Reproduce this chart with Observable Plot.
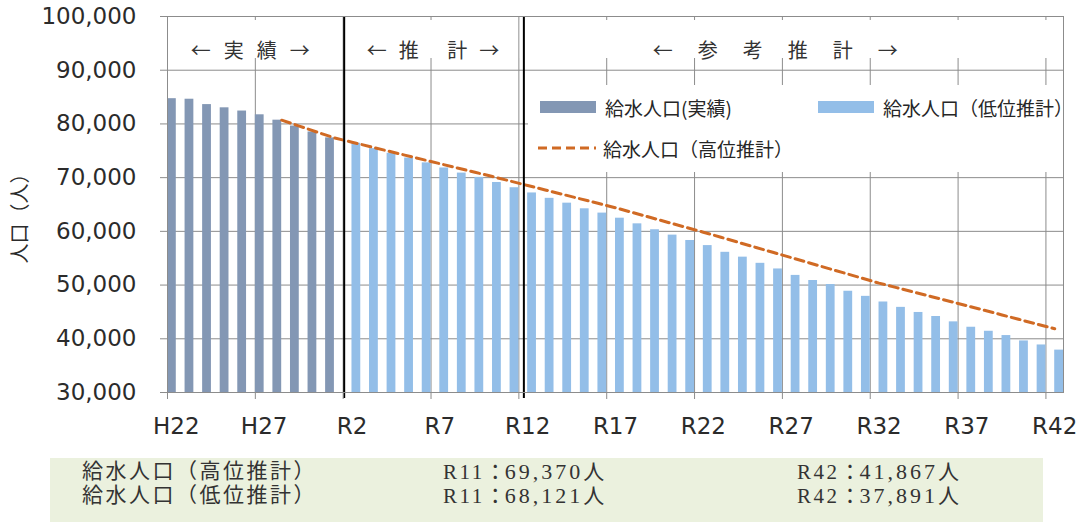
<!DOCTYPE html>
<html>
<head>
<meta charset="utf-8">
<script src="https://cdn.jsdelivr.net/npm/d3@7"></script>
<script src="https://cdn.jsdelivr.net/npm/@observablehq/plot@0.6"></script>
<style>
  body { margin: 0; background: #fff; overflow: hidden; }
  #wrap { position: relative; width: 1080px; height: 522px; font-family: "Noto Sans CJK JP", sans-serif; }
  #legend { position: absolute; left: 528px; top: 85px; width: 535px; height: 87px; background: #fff; font-size: 19px; color: #262626; }
  #legend .item { position: absolute; display: flex; align-items: center; height: 24px; white-space: nowrap; }
  #legend .sw { display: inline-block; margin-right: 7px; }
  #table { position: absolute; left: 50px; top: 458px; width: 993px; height: 70px; background: #EBF1DE;
           font-family: "Liberation Serif", "Noto Sans CJK JP", serif; font-size: 21px; letter-spacing: 2.5px; color: #333; }
  #table .cell { position: absolute; white-space: nowrap; line-height: 1; }
  #table .colon { letter-spacing: -3px; margin-right: 2px; }
  #table .num { display: inline-block; font-size: 22px; letter-spacing: 3px; }
</style>
</head>
<body>
<div id="wrap">
  <div id="chart"></div>
  <div id="legend"></div>
  <div id="table"></div>
</div>
<script>
// Fiscal years on the category axis (Heisei 22 … Reiwa 42)
const years = [
  "H22","H23","H24","H25","H26","H27","H28","H29","H30",
  "R1","R2","R3","R4","R5","R6","R7","R8","R9","R10",
  "R11","R12","R13","R14","R15","R16","R17","R18","R19","R20",
  "R21","R22","R23","R24","R25","R26","R27","R28","R29","R30",
  "R31","R32","R33","R34","R35","R36","R37","R38","R39","R40",
  "R41","R42"
];
const tickLabels = ["H22","H27","R2","R7","R12","R17","R22","R27","R32","R37","R42"];
const yTicks = [30000, 40000, 50000, 60000, 70000, 80000, 90000, 100000];

// Served population, actual (H22–R1)
const actual = [84700, 84600, 83600, 83000, 82400, 81700, 80700, 79600, 78500, 77400];

// Served population, low projection (R2–R42)
const lowProjection = [
  76400, 75400, 74550, 73650, 72750, 71800, 70850, 70050, 69100, 68121,
  67150, 66150, 65250, 64200, 63400, 62450, 61400, 60300, 59300, 58300,
  57350, 56100, 55200, 54050, 53000, 51800, 50850, 50100, 48850, 47900,
  46850, 45850, 44900, 44150, 43150, 42150, 41400, 40600, 39600, 38850,
  37891
];

// Served population, high projection (H28–R42)
const highStartYear = "H28";
const highProjection = [
  80700, 79600, 78500, 77400, 76600, 75800, 75000, 74200, 73400, 72600,
  71800, 71000, 70200, 69370, 68540, 67710, 66880, 66050, 65220, 64390,
  63480, 62570, 61660, 60750, 59840, 58900, 57950, 57000, 56060, 55110,
  54160, 53210, 52260, 51310, 50360, 49520, 48680, 47840, 47000, 46160,
  45300, 44440, 43580, 42720, 41867
];

const seriesNames = ["給水人口(実績)", "給水人口（低位推計）", "給水人口（高位推計）"];
const phaseNames = ["←実績→", "←推 計→", "←参考推計→"];
const phaseStarts = ["H22", "R2", "R12"];
const tableYears = ["R11", "R42"];
const yTitle = "人口（人）";

// ---- derived tables ----
const actualRows = actual.map((value, k) => ({i: k, value}));
const lowRows = lowProjection.map((value, k) => ({i: k + actual.length, value}));
const highStart = years.indexOf(highStartYear);
const highRows = highProjection.map((value, k) => ({i: k + highStart, value}));
const phases = phaseNames.map((name, k) => ({
  name,
  start: years.indexOf(phaseStarts[k]),
  end: k + 1 < phaseStarts.length ? years.indexOf(phaseStarts[k + 1]) : years.length
}));
const boundaryTicks = tickLabels.map(l => years.indexOf(l));
const labelTicks = tickLabels.map(l => years.indexOf(l) + 0.5);

const darkColor = "#8397B4";
const lightColor = "#93BEE8";
const orange = "#D06A24";
const gridColor = "#8c8c8c";
const textColor = "#2b2b2b";
const fmt = d3.format(",");

const chart = Plot.plot({
  width: 1080,
  height: 450,
  marginTop: 16,
  marginBottom: 58,
  marginLeft: 167,
  marginRight: 17,
  x: {type: "linear", domain: [0, years.length]},
  y: {domain: d3.extent(yTicks)},
  style: {fontFamily: "'DejaVu Sans', 'Noto Sans CJK JP', sans-serif", fontSize: "23px", background: "#fff", color: textColor},
  marks: [
    Plot.ruleY(yTicks.slice(1, -1), {stroke: gridColor}),
    Plot.ruleX(boundaryTicks, {stroke: gridColor}),
    // white band behind the phase captions
    Plot.rect(phases, {x1: "start", x2: "end", fill: "white", insetTop: 4, insetBottom: 334, insetLeft: 1.5, insetRight: 1.5}),
    Plot.rectY(actualRows, {x1: d => d.i, x2: d => d.i + 0.5, y: "value", fill: darkColor, clip: true}),
    Plot.rectY(lowRows, {x1: d => d.i + 0.5, x2: d => d.i + 1, y: "value", fill: lightColor, clip: true}),
    Plot.line(highRows, {x: d => d.i + 0.5, y: "value", stroke: orange, strokeWidth: 3, strokeDasharray: "9,5"}),
    // phase dividers
    Plot.ruleX([phases[1].start], {stroke: "#000", strokeWidth: 2, dx: 1, insetBottom: -6}),
    Plot.ruleX([phases[2].start], {stroke: "#000", strokeWidth: 2, dx: 5, insetBottom: -6}),
    Plot.frame({stroke: gridColor}),
    Plot.axisY(yTicks, {tickSize: 7, tickPadding: 24, tickFormat: fmt, fontSize: 23, stroke: gridColor, fill: textColor, label: null}),
    Plot.axisX(boundaryTicks, {tickSize: 7, tickFormat: () => "", stroke: gridColor, label: null}),
    Plot.axisX(labelTicks, {tickSize: 0, tickPadding: 25, tickFormat: d => years[Math.floor(d)], fontSize: 23, fill: textColor, label: null}),
    Plot.text(phases, {x: d => (d.start + d.end) / 2, text: "name", frameAnchor: "top", dy: 27, fontSize: 20,
      fontFamily: "'Noto Sans CJK JP', sans-serif", fill: "#333"}),
    Plot.text([yTitle], {text: d => d, frameAnchor: "left", textAnchor: "middle", rotate: -90, dx: -147, dy: 9, fontSize: 20,
      fontFamily: "'Noto Sans CJK JP', sans-serif", fill: textColor})
  ]
});

// spread the phase captions
const phaseSpacing = [13, 12, 25];
const phaseShift = [-5, 2, -16];
d3.select(chart).selectAll("text")
  .filter(function() { return phaseNames.includes(this.textContent); })
  .each(function() {
    const k = phaseNames.indexOf(this.textContent);
    d3.select(this).attr("letter-spacing", phaseSpacing[k]).attr("dx", phaseShift[k] + phaseSpacing[k] / 2);
  });
document.getElementById("chart").appendChild(chart);

// legend
const legend = d3.select("#legend");
const legendItems = [
  {name: seriesNames[0], left: 12, top: 10, kind: "bar", color: darkColor},
  {name: seriesNames[1], left: 290, top: 10, kind: "bar", color: lightColor},
  {name: seriesNames[2], left: 10, top: 51, kind: "line", color: orange}
];
legendItems.forEach(it => {
  const item = legend.append("div").attr("class", "item").style("left", it.left + "px").style("top", it.top + "px");
  const sw = item.append("svg").attr("class", "sw").attr("width", 58).attr("height", 12);
  if (it.kind === "bar") sw.append("rect").attr("width", 56).attr("height", 12).attr("fill", it.color);
  else sw.append("line").attr("x1", 0).attr("x2", 58).attr("y1", 6).attr("y2", 6)
         .attr("stroke", it.color).attr("stroke-width", 3).attr("stroke-dasharray", "9,5");
  item.append("span").text(it.name);
});

// summary box
const lookup = rows => new Map(rows.map(d => [years[d.i], d.value]));
const summary = [
  {name: seriesNames[2], values: lookup(highRows)},
  {name: seriesNames[1], values: lookup(lowRows)}
];
const table = d3.select("#table");
const colLeft = [32, 393, 747];
summary.forEach((row, r) => {
  const top = 3 + r * 23.5;
  table.append("div").attr("class", "cell").style("left", colLeft[0] + "px").style("top", top + "px").text(row.name);
  tableYears.forEach((y, c) => {
    const cell = table.append("div").attr("class", "cell").style("left", colLeft[c + 1] + "px").style("top", top + "px");
    cell.append("span").text(y);
    cell.append("span").attr("class", "colon").text("：");
    cell.append("span").attr("class", "num").text(fmt(row.values.get(y)));
    cell.append("span").text("人");
  });
});
</script>
</body>
</html>
